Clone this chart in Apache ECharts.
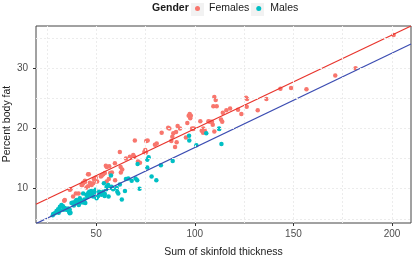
<!DOCTYPE html>
<html>
<head>
<meta charset="utf-8">
<script src="https://cdn.jsdelivr.net/npm/echarts@6/dist/echarts.min.js"></script>
<style>
  html, body { margin: 0; padding: 0; background: #fff; }
  #chart { width: 412px; height: 258px; }
</style>
</head>
<body>
<div id="chart"></div>
<script>
// sum of skinfold thickness vs percent body fat
var females = [
  [33.8, 8.0], [34.1, 8.1], [36.6, 9.8], [37.0, 9.9], [38.3, 8.7], [39.7, 9.2], [41.1, 9.2],
  [42.6, 10.6], [42.9, 10.6], [43.4, 10.9], [43.4, 11.0], [44.3, 11.1], [44.3, 11.3], [45.1, 10.2],
  [45.9, 10.4], [45.9, 12.4], [46.3, 12.4], [46.8, 11.0], [47.7, 10.6], [48.5, 10.9], [48.8, 11.6],
  [49.8, 11.8], [50.5, 11.2], [52.4, 12.0], [52.9, 12.2], [53.6, 12.4], [54.4, 12.6], [54.9, 13.8],
  [55.3, 11.2], [55.4, 13.6], [56.4, 11.6], [56.6, 13.7], [57.1, 12.6], [58.0, 12.7], [59.5, 14.2],
  [59.6, 11.4], [62.0, 16.1], [62.4, 13.6], [62.5, 12.7], [63.2, 13.2], [65.1, 15.0], [67.1, 15.3],
  [68.3, 15.2], [68.8, 15.6], [69.3, 15.3], [69.6, 18.0], [71.2, 14.5], [72.2, 14.3], [74.4, 16.1],
  [74.9, 16.4], [75.2, 16.0], [75.4, 17.9], [76.1, 18.0], [79.8, 17.3], [80.7, 17.5], [83.2, 19.3],
  [86.5, 20.1], [87.1, 20.0], [88.1, 17.9], [88.6, 18.6], [89.1, 19.2], [90.0, 16.9], [90.5, 19.4],
  [90.8, 17.7], [91.3, 20.4], [92.5, 20.0], [95.5, 18.5], [96.2, 20.9], [96.9, 22.1], [97.4, 22.4],
  [97.7, 21.7], [98.0, 22.1], [98.6, 20.0], [99.1, 19.9], [99.6, 20.0], [102.8, 21.2], [103.5, 19.6],
  [104.2, 19.3], [104.3, 20.0], [105.0, 19.7], [106.9, 21.2], [107.7, 21.1], [108.7, 21.1],
  [109.1, 20.6], [109.4, 23.7], [109.9, 25.2], [109.9, 19.5], [110.6, 24.7], [111.1, 23.7],
  [113.3, 21.5], [113.9, 21.1], [114.2, 22.6], [116.0, 23.0], [117.9, 23.3], [121.9, 23.1],
  [123.6, 22.4], [126.0, 25.1], [126.5, 24.9], [126.3, 23.6], [131.9, 23.0], [136.3, 24.9],
  [143.4, 26.6], [148.8, 26.7], [156.6, 26.5], [171.2, 28.8], [181.5, 30.0], [200.8, 35.5]
];
var males = [
  [28.0, 5.6], [28.2, 5.8], [29.0, 5.9], [29.9, 6.3], [30.7, 6.6], [31.0, 6.0], [31.6, 7.0],
  [32.0, 6.4], [32.4, 7.3], [33.2, 7.1], [33.5, 6.5], [34.1, 6.8], [35.0, 6.5], [35.8, 6.7],
  [36.2, 6.2], [36.6, 6.5], [36.6, 5.9], [37.0, 6.0], [37.5, 7.6], [38.3, 7.7], [38.7, 7.2],
  [39.2, 7.5], [39.5, 7.9], [40.0, 8.1], [40.8, 7.8], [41.2, 7.3], [41.7, 8.4], [42.0, 7.7],
  [42.5, 8.0], [43.4, 7.7], [43.4, 9.2], [44.0, 8.2], [44.5, 7.6], [45.0, 9.0], [45.5, 8.6],
  [46.0, 9.3], [46.5, 9.5], [47.0, 8.9], [47.5, 9.6], [48.0, 9.2], [48.5, 8.7], [49.0, 9.4],
  [49.5, 9.8], [50.2, 8.4], [51.0, 8.8], [51.5, 9.5], [52.4, 9.3], [52.7, 9.0], [53.5, 9.5],
  [53.9, 10.9], [54.3, 8.8], [54.4, 9.1], [55.1, 9.9], [55.3, 10.3], [56.1, 10.6], [56.3, 8.7],
  [57.0, 10.2], [57.5, 12.2], [57.8, 10.3], [58.0, 10.1], [58.6, 9.9], [60.4, 10.1], [60.7, 9.5],
  [61.2, 9.2], [62.0, 10.7], [63.0, 8.2], [64.6, 9.6], [65.1, 11.6], [66.3, 11.7], [68.0, 11.3],
  [70.0, 11.7], [70.8, 11.4], [71.0, 14.1], [72.0, 10.0], [75.9, 14.8], [76.6, 15.2], [75.9, 13.5],
  [78.1, 12.0], [80.5, 11.4], [82.8, 13.9], [88.8, 14.6], [97.1, 18.8], [97.2, 18.0], [100.8, 17.2],
  [105.8, 19.2], [112.3, 20.0], [112.4, 19.9], [113.5, 17.4]
];
// fitted lines, end points read at the panel edges
var femaleLine = [[19.5, 7.4], [209.6, 37.0]];
var maleLine = [[19.5, 4.2], [209.6, 34.0]];

var xRange = [19.5, 209.6];
var yRange = [4.3, 37.0];
var xTicks = [50, 100, 150, 200];
var yTicks = [10, 20, 30];
var xMinor = [25, 75, 125, 175];
var yMinor = [5, 15, 25, 35];

var font = 'Liberation Sans, Arial, sans-serif';
var chart = echarts.init(document.getElementById('chart'));

var gridLines = [];
xTicks.concat(xMinor).forEach(function (v) { gridLines.push({ xAxis: v }); });
yTicks.concat(yMinor).forEach(function (v) { gridLines.push({ yAxis: v }); });

var option = {
  animation: false,
  backgroundColor: '#fff',
  textStyle: { fontFamily: font },
  grid: {
    left: 36, right: 1, top: 26, bottom: 35,
    outerBoundsMode: 'none', containLabel: false,
    show: true, borderColor: '#444', borderWidth: 1, backgroundColor: '#fff'
  },
  graphic: [
    { type: 'text', left: 152, top: 3, z: 5,
      style: { text: 'Gender', font: 'bold 10.5px ' + font, fill: '#1a1a1a' } },
    { type: 'rect', shape: { x: 191, y: 3, width: 13, height: 13 }, z: 1,
      style: { fill: '#f2f2f2' } },
    { type: 'rect', shape: { x: 251, y: 3, width: 13, height: 13 }, z: 1,
      style: { fill: '#f2f2f2' } },
    // y axis title (the axis name gets pushed onto the labels here)
    { type: 'text', x: 7, y: 124, rotation: Math.PI / 2, z: 5,
      style: { text: 'Percent body fat', font: '10.5px ' + font, fill: '#1a1a1a',
               align: 'center', verticalAlign: 'middle' } }
  ],
  legend: {
    left: 195, top: 3, z: 5,
    padding: 0,
    icon: 'circle', itemWidth: 5, itemHeight: 5, itemGap: 7,
    textStyle: { fontSize: 10.5, color: '#1a1a1a', fontFamily: font, padding: [0, 0, 0, 4] },
    data: ['Females', 'Males']
  },
  xAxis: {
    type: 'value', min: xRange[0], max: xRange[1],
    name: 'Sum of skinfold thickness', nameLocation: 'middle', nameGap: 24,
    nameTextStyle: { fontSize: 10.5, color: '#1a1a1a' },
    axisLine: { show: false },
    axisTick: { show: true, length: 3, customValues: xTicks, lineStyle: { color: '#333' } },
    axisLabel: { customValues: xTicks, fontSize: 10, color: '#4d4d4d', margin: 6 },
    splitLine: { show: false }
  },
  yAxis: {
    type: 'value', min: yRange[0], max: yRange[1],
    axisLine: { show: false },
    axisTick: { show: true, length: 3, customValues: yTicks, lineStyle: { color: '#333' } },
    axisLabel: { customValues: yTicks, fontSize: 10, color: '#4d4d4d', margin: 8 },
    splitLine: { show: false }
  },
  series: [
    {
      name: 'grid', type: 'scatter', data: [], z: 0, silent: true,
      markLine: {
        silent: true, symbol: ['none', 'none'], label: { show: false },
        lineStyle: { color: '#ececec', type: [2, 2], width: 1 },
        data: gridLines
      }
    },
    {
      name: 'Females', type: 'scatter', data: females, symbolSize: 4.5,
      itemStyle: { color: '#F8766D', opacity: 1 }
    },
    {
      name: 'Males', type: 'scatter', data: males, symbolSize: 4.5,
      itemStyle: { color: '#00BFC4', opacity: 1 }
    },
    {
      name: 'femaleFit', type: 'line', data: femaleLine, symbol: 'none', z: 3,
      lineStyle: { color: '#e8342c', width: 1.2 }
    },
    {
      name: 'maleFit', type: 'line', data: maleLine, symbol: 'none', z: 3,
      lineStyle: { color: '#3c4db2', width: 1.2 }
    }
  ]
};
chart.setOption(option);
</script>
</body>
</html>
